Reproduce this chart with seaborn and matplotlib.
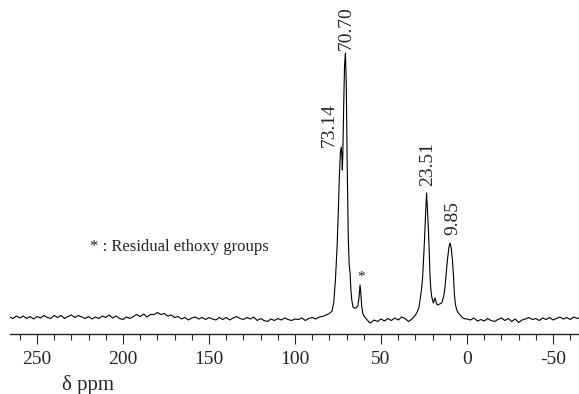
import matplotlib
matplotlib.use("Agg")
import matplotlib.pyplot as plt
import seaborn as sns
import pandas as pd
from matplotlib.ticker import MultipleLocator

# chemical shift (ppm) and signal height
baseline_left_ppm = [266, 264, 262, 260, 258, 256, 254, 252, 250, 248, 246, 244, 242, 240,
                     238, 236, 234, 232, 230, 228, 226, 224, 222, 220, 218, 216, 214, 212,
                     210, 208, 206, 204, 202, 200, 198, 196, 194, 192, 190, 188, 186, 184,
                     182, 180, 178, 176, 174, 172, 170, 168, 166, 164, 162, 160, 158, 156,
                     154, 152, 150, 148, 146, 144, 142, 140, 138, 136, 134, 132, 130, 128,
                     126, 124, 122, 120, 118, 116, 114, 112, 110, 108, 106, 104, 102, 100]
baseline_left_int = [3.0, 1.5, 4.0, 2.0, 4.0, 1.5, 3.5, 1.0, 3.5, 2.0, 4.5, 2.5, 1.5, 4.5,
                     2.5, 4.5, 1.5, 3.5, 5.0, 2.5, 4.5, 3.0, 1.5, 3.5, 1.0, 3.0, 1.5, 4.0,
                     2.5, 5.0, 2.0, 4.0, 1.5, 0.5, 3.0, 1.5, 3.5, 5.5, 3.5, 6.0, 3.0, 5.5,
                     5.5, 7.5, 5.5, 6.5, 4.0, 5.0, 2.5, 3.5, 1.0, 2.5, 0.0, 2.0, 3.0, 1.0,
                     2.5, 0.5, 2.5, 1.0, 0.0, 2.5, 0.5, 2.5, 0.0, 2.0, 3.5, 1.5, 0.5, 2.5,
                     1.0, 3.0, -0.5, 1.5, -0.5, -1.5, 1.0, -0.5, 1.5, 0.0, 2.0, 0.5, -0.5, 1.0]

peaks_ppm = [98, 96, 94, 92, 90, 88, 86, 84, 82, 80, 78.5, 77.5, 76.5, 75.5, 74.8, 74.2,
             73.6, 73.14, 72.8, 72.5, 72.2, 71.7, 71.2, 70.7, 70.2, 69.7, 69.0, 68.5, 68.0,
             67.5, 67.0, 66.3, 65.5, 64.5, 63.5, 62.8, 62.2, 61.8, 61.2, 60.5, 59.5, 58.5,
             57.5, 56.5, 55.5, 54, 52, 50, 48, 46, 44, 42, 40, 38, 36, 34, 32, 30, 29, 28,
             27.3, 26.5, 25.8, 24.8, 24.0, 23.51, 23.0, 22.5, 22.0, 21.5, 21.0, 20.5, 19.6,
             18.6, 17.8, 17.2, 16.0, 14.7, 13.5, 12.8, 12.0, 11.4, 10.5, 9.85, 9.2, 8.5,
             7.8, 7.4, 6.8, 6.0, 5.0, 4.0, 3.0, 2.0]
peaks_int = [0.5, 2.0, -0.5, 1.5, 2.5, 1.0, 3.0, 3.5, 5.0, 6.5, 9, 17, 40, 75, 110, 145,
             168, 173, 165, 150, 165, 215, 255, 267, 235, 160, 80, 55, 47,
             30, 20, 13, 12, 12, 14, 22, 35, 28, 13, 6, 3, 1,
             -1, -3, -2, 0, -1.5, 1, -1, 1.5, -0.5, 2, 0, 3, 1.5, -1.5, 1, 5, 8, 12,
             20, 30, 43, 77, 110, 127, 110, 93, 70, 43, 30, 23, 17,
             22, 17, 15, 16, 17, 24, 33, 48, 60, 73, 77, 72, 60,
             42, 27, 16, 10, 7, 5, 3, 1.5]

baseline_right_ppm = [0, -2, -4, -6, -8, -10, -12, -14, -16, -18, -20, -22, -24, -26, -28,
                      -30, -32, -34, -36, -38, -40, -42, -44, -46, -48, -50, -52, -54, -56,
                      -58, -60, -62, -64, -66]
baseline_right_int = [1, 0, 2, -1, 0.5, -1, 1.5, -0.5, -1.5, 0.5, 2, -0.5, 1.5, -1.5, 1,
                      -2.5, 0, 1, 2.5, 0.5, 1.5, -0.5, 2, 0.5, 2.5, 0, 1.5, 3, 1,
                      2.5, 0.5, 3, 1.5, 2.5]

peak_labels = ["70.70", "73.14", "23.51", "9.85"]
label_ppm = [70.5, 80.0, 22.7, 8.2]
label_height = [270, 173, 134, 85]

df = pd.DataFrame({
    "ppm": baseline_left_ppm + peaks_ppm + baseline_right_ppm,
    "intensity": baseline_left_int + peaks_int + baseline_right_int,
})

sns.set_style("white")
plt.rcParams["font.family"] = ["Liberation Serif", "DejaVu Serif"]
plt.rcParams["axes.unicode_minus"] = False

fig = plt.figure(figsize=(5.79, 3.94), dpi=100)
ax = fig.add_axes([10 / 579, 60 / 394, 569 / 579, 334 / 394])

sns.lineplot(data=df, x="ppm", y="intensity", ax=ax, color="black",
             linewidth=0.8, sort=False)

ax.set_xlim(265.7, -65.1)
ax.set_ylim(-14, 320)

for s in ["left", "top", "right"]:
    ax.spines[s].set_visible(False)
ax.spines["bottom"].set_linewidth(1.0)
ax.set_yticks([])
ax.set_ylabel("")
ax.set_xlabel("")

ax.xaxis.set_major_locator(MultipleLocator(50))
ax.xaxis.set_minor_locator(MultipleLocator(10))
ax.tick_params(axis="x", which="major", direction="out", length=7, width=0.8,
               labelsize=14, pad=5, bottom=True)
ax.tick_params(axis="x", which="minor", direction="out", length=4, width=0.8, bottom=True)

for txt, x, y in zip(peak_labels, label_ppm, label_height):
    ax.text(x, y, txt, rotation=90, ha="center", va="bottom", fontsize=14)

ax.text(61.6, 36, "*", ha="center", va="bottom", fontsize=11)
ax.text(219, 73, "* : Residual ethoxy groups", ha="left", va="center", fontsize=12)

fig.text(62 / 579, 1 - 385 / 394, "δ ppm", ha="left", va="center", fontsize=15)

plt.savefig("out.png", dpi=100)
plt.close()
